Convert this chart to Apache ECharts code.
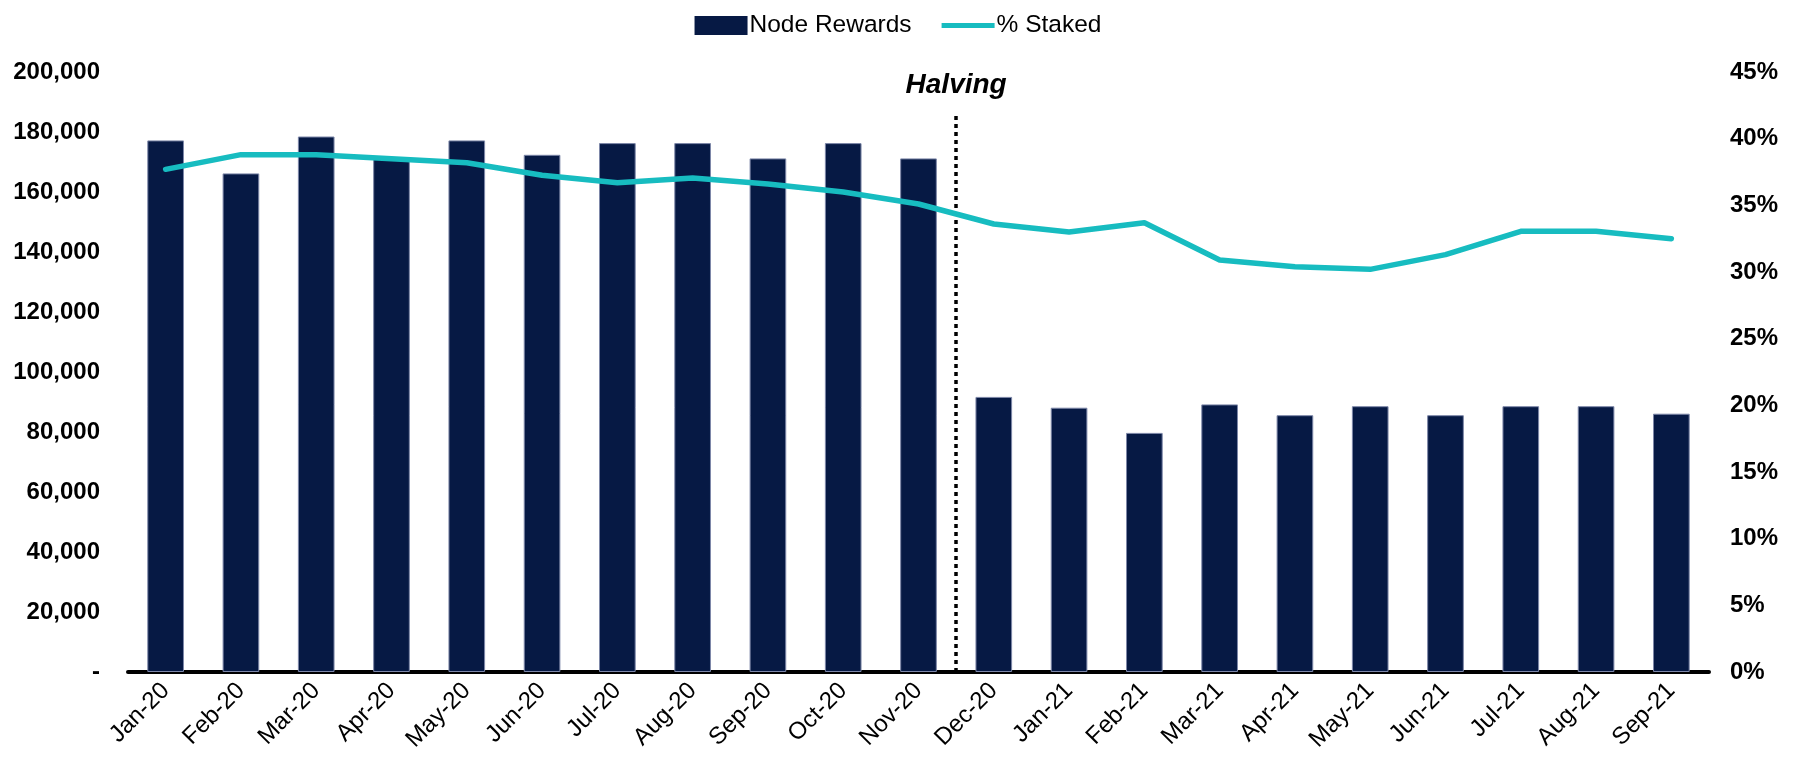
<!DOCTYPE html>
<html>
<head>
<meta charset="utf-8">
<script src="https://cdn.jsdelivr.net/npm/echarts@6/dist/echarts.min.js"></script>
<style>
    html, body { margin: 0; padding: 0; background: #fff; }
    #chart { width: 1796px; height: 757px; }
</style>
</head>
<body>
<div id="chart"></div>
<script>
const months = ['Jan-20', 'Feb-20', 'Mar-20', 'Apr-20', 'May-20', 'Jun-20', 'Jul-20',
    'Aug-20', 'Sep-20', 'Oct-20', 'Nov-20', 'Dec-20', 'Jan-21', 'Feb-21', 'Mar-21',
    'Apr-21', 'May-21', 'Jun-21', 'Jul-21', 'Aug-21', 'Sep-21'];
const nodeRewards = [177200, 166200, 178500, 171000, 177200, 172400, 176300,
    176300, 171200, 176300, 171200, 91700, 88100, 79700, 89200,
    85600, 88600, 85600, 88600, 88600, 86100];
const pctStaked = [37.7, 38.8, 38.8, 38.5, 38.2, 37.25, 36.7,
    37.05, 36.6, 36.0, 35.1, 33.6, 33.0, 33.7, 30.9,
    30.4, 30.2, 31.3, 33.05, 33.05, 32.5];
// halving sits between Nov-20 and Dec-20
const halvingPos = 10.5;
const halvingTop = 41.7;

const font = 'Liberation Sans, Arial, sans-serif';
const teal = '#17BCC0';
const navy = '#061944';
const chart = echarts.init(document.getElementById('chart'));

const option = {
    animation: false,
    textStyle: { fontFamily: font },
    grid: { left: 128, right: 87, top: 72, bottom: 85, containLabel: false },
    legend: {
        top: 8,
        left: 'center',
        itemWidth: 53,
        itemHeight: 19,
        itemGap: 30,
        textStyle: { fontSize: 24.5, color: '#000', fontFamily: font, padding: [0, 0, 0, -3] },
        data: [
            { name: 'Node Rewards', icon: 'rect', itemStyle: { color: navy, borderWidth: 0 } },
            { name: '% Staked', icon: 'path://M0,0H56V5.5H0Z', itemStyle: { color: teal } }
        ]
    },
    xAxis: [
        {
            type: 'category',
            data: months,
            axisLine: { lineStyle: { color: '#000', width: 4 } },
            axisTick: { show: false },
            axisLabel: {
                rotate: 45,
                margin: 15,
                fontSize: 24,
                color: '#000',
                fontFamily: font,
                interval: 0
            }
        },
        {
            type: 'value',
            min: -0.5,
            max: 20.5,
            show: false
        }
    ],
    yAxis: [
        {
            type: 'value',
            min: 0,
            max: 200000,
            interval: 20000,
            splitLine: { show: false },
            axisLine: { show: false },
            axisTick: { show: false },
            axisLabel: {
                margin: 28,
                fontSize: 24,
                fontWeight: 'bold',
                color: '#000',
                fontFamily: font,
                formatter: v => v === 0 ? '-' : v.toLocaleString('en-US')
            }
        },
        {
            type: 'value',
            min: 0,
            max: 45,
            interval: 5,
            splitLine: { show: false },
            axisLine: { show: false },
            axisTick: { show: false },
            axisLabel: {
                margin: 21,
                fontSize: 24,
                fontWeight: 'bold',
                color: '#000',
                fontFamily: font,
                formatter: '{value}%'
            }
        }
    ],
    series: [
        {
            name: 'Node Rewards',
            type: 'bar',
            data: nodeRewards,
            barWidth: '48.7%',
            itemStyle: { color: navy, borderColor: '#7d87a8', borderWidth: 1 }
        },
        {
            name: '% Staked',
            type: 'line',
            yAxisIndex: 1,
            data: pctStaked,
            symbol: 'none',
            z: 5,
            itemStyle: { color: teal },
            lineStyle: { color: teal, width: 5.5, cap: 'round', join: 'round' }
        },
        {
            name: 'halving',
            type: 'line',
            xAxisIndex: 1,
            yAxisIndex: 1,
            data: [],
            markLine: {
                silent: true,
                symbol: 'none',
                lineStyle: { color: '#000', width: 3.5, type: [4, 4] },
                label: {
                    show: true,
                    position: 'start',
                    distance: 17,
                    formatter: 'Halving',
                    fontSize: 28,
                    fontWeight: 'bold',
                    fontStyle: 'italic',
                    color: '#000',
                    fontFamily: font
                },
                data: [[
                    { coord: [halvingPos, halvingTop] },
                    { coord: [halvingPos, 0] }
                ]]
            }
        }
    ]
};

chart.setOption(option);

window.addEventListener('resize', _ => {
    chart.resize();
});
</script>
</body>
</html>
